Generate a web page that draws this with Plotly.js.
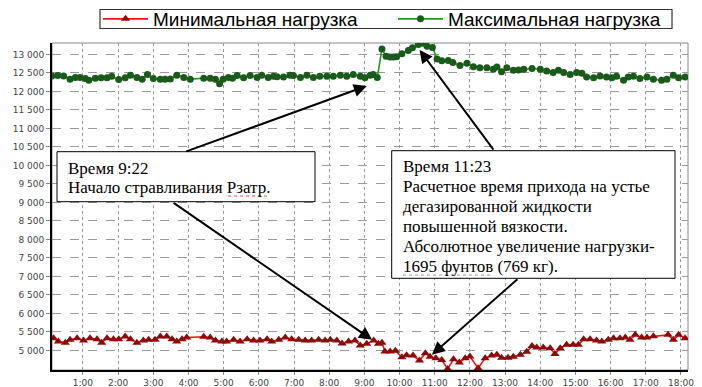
<!DOCTYPE html>
<html><head><meta charset="utf-8">
<script src="https://cdn.plot.ly/plotly-3.0.1.min.js"></script>
<style>html,body{margin:0;padding:0;background:#fff}#chart{width:702px;height:387px}</style>
</head><body><div id="chart"></div>
<script>
const maxTimes = ['0:07','0:17','0:27','0:38','0:47','0:55','1:04','1:10','1:21','1:31','1:41','1:49','2:01','2:12','2:21','2:32','2:41','2:50','3:00','3:12','3:20','3:29','3:40','3:52','4:03','4:26','4:37','4:46','4:53','4:59','5:08','5:15','5:23','5:34','5:45','5:57','6:05','6:16','6:25','6:31','6:42','6:53','6:59','7:11','7:22','7:33','7:44','7:56','8:07','8:19','8:30','8:41','8:53','9:01','9:10','9:15','9:22','9:30','9:37','9:44','9:50','9:55','10:04','10:15','10:22','10:32','10:40','10:47','10:56','11:04','11:12','11:23','11:31','11:43','11:55','12:06','12:17','12:29','12:40','12:46','12:54','13:03','13:14','13:23','13:32','13:46','14:00','14:11','14:22','14:31','14:40','14:51','15:02','15:11','15:19','15:31','15:42','15:53','16:02','16:10','16:22','16:30','16:39','16:50','17:02','17:13','17:27','17:36','17:47','17:56','18:07'];
const maxValues = [12420,12430,12420,12330,12380,12380,12350,12300,12360,12370,12370,12410,12320,12370,12440,12380,12330,12460,12350,12330,12330,12340,12440,12380,12330,12360,12360,12330,12210,12330,12380,12360,12430,12370,12430,12380,12440,12380,12410,12400,12390,12440,12430,12380,12440,12380,12410,12410,12410,12440,12410,12460,12410,12370,12440,12460,12380,13150,12950,12930,12930,12940,13020,13110,13180,13270,13300,13220,13190,12880,12830,12840,12780,12700,12760,12670,12640,12640,12600,12660,12530,12640,12570,12580,12600,12620,12600,12550,12510,12570,12510,12460,12510,12490,12390,12370,12420,12390,12370,12410,12300,12390,12410,12350,12390,12330,12300,12330,12440,12370,12390];
const minTimes = ['0:10','0:18','0:30','0:38','0:50','1:01','1:12','1:24','1:32','1:41','1:52','2:01','2:12','2:21','2:32','2:43','2:52','3:03','3:12','3:23','3:32','3:40','3:49','3:57','4:26','4:37','4:46','4:57','5:05','5:17','5:28','5:40','5:51','6:02','6:14','6:22','6:34','6:45','6:56','7:08','7:19','7:30','7:42','7:53','8:02','8:13','8:22','8:33','8:44','8:53','9:04','9:16','9:24','9:30','9:35','9:44','9:53','10:04','10:12','10:23','10:34','10:44','10:52','11:02','11:12','11:22','11:32','11:42','11:52','12:00','12:14','12:26','12:37','12:46','12:54','13:05','13:14','13:26','13:37','13:46','13:54','14:05','14:17','14:25','14:34','14:45','14:56','15:05','15:14','15:25','15:36','15:45','15:56','16:05','16:16','16:25','16:33','16:42','16:53','17:02','17:13','17:38','17:47','17:56','18:07'];
const minValues = [5330,5240,5210,5285,5330,5270,5330,5300,5210,5330,5300,5300,5375,5300,5210,5270,5285,5285,5375,5375,5300,5240,5300,5350,5370,5350,5270,5240,5240,5285,5240,5300,5270,5270,5300,5240,5285,5350,5300,5285,5270,5270,5285,5270,5285,5270,5185,5240,5270,5130,5180,5265,5180,5210,4970,4970,4990,4815,4870,4860,4725,4925,4830,4790,4740,4500,4760,4670,4790,4835,4520,4790,4860,4880,4800,4800,4830,4880,4960,5120,5080,5080,5060,4905,5060,5150,5150,5150,5300,5300,5270,5240,5285,5330,5330,5350,5285,5420,5350,5350,5380,5420,5285,5420,5330];
const xTickLabels = ['1:00','2:00','3:00','4:00','5:00','6:00','7:00','8:00','9:00','10:00','11:00','12:00','13:00','14:00','15:00','16:00','17:00','18:00'];
const yTickValues = [5000,5500,6000,6500,7000,7500,8000,8500,9000,9500,10000,10500,11000,11500,12000,12500,13000];
const seriesNames = ['Минимальная нагрузка','Максимальная нагрузка'];
const note1Lines = ['Время 9:22','Начало стравливания Рзатр.'];
const note2Lines = ['Время 11:23','Расчетное время прихода на устье','дегазированной жидкости','повышенной вязкости.','Абсолютное увеличение нагрузки-','1695 фунтов (769 кг).'];

function toHours(s){const p=s.split(':').map(Number);return p[0]+p[1]/60;}

const W=702,H=387,M={l:52,r:14,t:43,b:17};
const pw=W-M.l-M.r, ph=H-M.t-M.b;
const px=x=>(x-M.l)/pw, py=y=>(H-M.b-y)/ph;

const traces=[
 {x:minTimes.map(toHours),y:minValues,name:seriesNames[0],type:'scatter',mode:'lines+markers',
  line:{color:'#ff1010',width:1.6},marker:{symbol:'triangle-up',size:8,color:'#8b0a0a',line:{width:0}}},
 {x:maxTimes.map(toHours),y:maxValues,name:seriesNames[1],type:'scatter',mode:'lines+markers',
  line:{color:'#1f9a1f',width:1.6},marker:{symbol:'circle',size:7,color:'#1a5a1a',line:{width:0}}}
];

const arrow=(x,y,ax,ay)=>({x,y,xref:'x',yref:'y',ax,ay,axref:'pixel',ayref:'pixel',text:'',showarrow:true,
  arrowhead:2,arrowsize:1.3,arrowwidth:2,arrowcolor:'#000',standoff:0,startstandoff:0});
const lineNote=(txt,x,y)=>({x:px(x),y:py(y),xref:'paper',yref:'paper',xanchor:'left',yanchor:'middle',align:'left',
  showarrow:false,text:txt,font:{family:'Liberation Serif',size:17,color:'#000'}});

const annotations=[
  arrow(9.07,12150,-182,66),
  arrow(9.22,5285,-200,-138),
  arrow(10.57,13120,75,101),
  arrow(10.92,4880,87,-77)
];
note1Lines.forEach((t,i)=>annotations.push(lineNote(t,66,168+i*19.5)));
note2Lines.forEach((t,i)=>annotations.push(lineNote(t,401,166.5+i*19.9)));

const layout={
 width:W,height:H,margin:{l:M.l,r:M.r,t:M.t,b:M.b,pad:0,autoexpand:false},
 paper_bgcolor:'#fff',plot_bgcolor:'#fff',separators:'. ',
 font:{family:'DejaVu Sans',size:9,color:'#444'},
 xaxis:{range:[0.12,18.2],tickmode:'array',tickvals:xTickLabels.map(toHours),ticktext:xTickLabels,
  showgrid:true,gridcolor:'#9a9a9a',griddash:'dot',gridwidth:1,zeroline:false,
  showline:true,linecolor:'#000',linewidth:2,ticks:'outside',ticklen:3,tickcolor:'#888',
  tickfont:{family:'DejaVu Sans',size:9,color:'#444'}},
 yaxis:{range:[4470,13310],tickmode:'array',tickvals:yTickValues,tickformat:',d',
  showgrid:true,gridcolor:'#9a9a9a',griddash:'dash',gridwidth:1,zeroline:false,
  showline:true,linecolor:'#000',linewidth:2,ticks:'outside',ticklen:4,tickcolor:'#888',
  tickfont:{family:'DejaVu Sans',size:9,color:'#444'}},
 legend:{orientation:'h',x:px(98),xanchor:'left',y:py(19),yanchor:'middle',borderwidth:0,
  bgcolor:'rgba(0,0,0,0)',font:{family:'Liberation Sans',size:19,color:'#000'},itemwidth:45,
  entrywidth:235,entrywidthmode:'pixels'},
 shapes:[
  {type:'rect',xref:'paper',yref:'paper',x0:0,x1:1,y0:0,y1:1,line:{color:'#888',width:1},layer:'below'},
  {type:'rect',xref:'paper',yref:'paper',x0:px(100),x1:px(672),y0:py(28.5),y1:py(9.5),line:{color:'#333',width:1.2},fillcolor:'rgba(0,0,0,0)'},
  {type:'rect',xref:'paper',yref:'paper',x0:px(57),x1:px(315),y0:py(201.7),y1:py(151.7),line:{color:'#000',width:1},fillcolor:'#fff',layer:'above'},
  {type:'rect',xref:'paper',yref:'paper',x0:px(391.7),x1:px(675),y0:py(278.3),y1:py(150.7),line:{color:'#000',width:1},fillcolor:'#fff',layer:'above'},
  {type:'line',xref:'paper',yref:'paper',x0:px(228),x1:px(268),y0:py(196),y1:py(196),line:{color:'#e05050',width:1,dash:'dot'}},
  {type:'line',xref:'paper',yref:'paper',x0:px(403),x1:px(492),y0:py(275),y1:py(275),line:{color:'#c080c0',width:1,dash:'dot'}}
 ],
 annotations
};
Plotly.newPlot('chart',traces,layout,{displayModeBar:false,staticPlot:true});
</script></body></html>
